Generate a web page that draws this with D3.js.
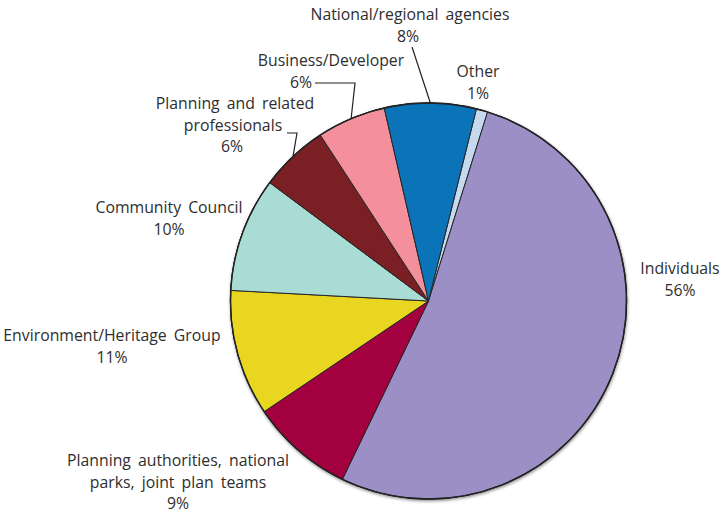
<!DOCTYPE html>
<html>
<head>
<meta charset="utf-8">
<script src="https://cdn.jsdelivr.net/npm/d3@7"></script>
<style>
  html, body { margin: 0; padding: 0; background: #ffffff; }
  svg text { font-family: "Open Sans", "Noto Sans", sans-serif; font-size: 15.8px; fill: #2e2e2e; word-spacing: 3px; }
</style>
</head>
<body>
<svg id="chart" width="723" height="515"></svg>
<script>
// Respondent groups, listed clockwise from the top of the pie
const categories = [
  "Other",
  "Individuals",
  "Planning authorities, national parks, joint plan teams",
  "Environment/Heritage Group",
  "Community Council",
  "Planning and related professionals",
  "Business/Developer",
  "National/regional agencies"
];
// Share of responses (%) as printed on each label
const shares = [1, 56, 9, 11, 10, 6, 6, 8];
const sliceColors = ["#c6daef", "#9b8fc5", "#a3003f", "#e9d620", "#a9dcd4", "#7a1f23", "#f3909c", "#0b74b9"];
// How each label breaks over lines
const labelLines = [
  ["Other"],
  ["Individuals"],
  ["Planning authorities, national", "parks, joint plan teams"],
  ["Environment/Heritage Group"],
  ["Community Council"],
  ["Planning and related", "professionals"],
  ["Business/Developer"],
  ["National/regional agencies"]
];

const svg = d3.select("#chart");
const cx = 428.5, cy = 301, radius = 198;
const rotation = 14 * Math.PI / 180;

const defs = svg.append("defs");
const shadow = defs.append("filter").attr("id", "pieShadow")
  .attr("x", "-10%").attr("y", "-10%").attr("width", "120%").attr("height", "120%");
shadow.append("feDropShadow").attr("dx", 0.5).attr("dy", 1.5)
  .attr("stdDeviation", 1.4).attr("flood-color", "#000").attr("flood-opacity", 0.45);

const data = categories.map((c, i) => ({ name: c, value: shares[i], color: sliceColors[i], lines: labelLines[i] }));

const pie = d3.pie().sort(null).value(d => d.value)
  .startAngle(rotation).endAngle(rotation + 2 * Math.PI);
const arcs = pie(data);
const arc = d3.arc().innerRadius(0).outerRadius(radius);

const g = svg.append("g").attr("transform", `translate(${cx},${cy})`);

// outer disc with a soft shadow underneath
g.append("circle").attr("r", radius).attr("fill", "#9b8fc5")
  .attr("stroke", "#222").attr("stroke-width", 1.4).attr("filter", "url(#pieShadow)");

g.selectAll("path.slice").data(arcs).join("path")
  .attr("class", "slice")
  .attr("d", arc)
  .attr("fill", d => d.data.color)
  .attr("stroke", "#262626")
  .attr("stroke-width", 1)
  .attr("stroke-linejoin", "round");

g.append("circle").attr("r", radius).attr("fill", "none")
  .attr("stroke", "#222").attr("stroke-width", 1.4);

// Point on the rim at the middle of a slice, in page coordinates
function rimPoint(a) {
  const m = (a.startAngle + a.endAngle) / 2;
  return [cx + radius * Math.sin(m), cy - radius * Math.cos(m)];
}

// Label placement: text centre, first baseline, optional percent offset and leader stub
const labelLayout = {
  "Other":                          { x: 478, y: 77 },
  "Individuals":                    { x: 680, y: 274 },
  "Planning authorities, national parks, joint plan teams": { x: 178, y: 466 },
  "Environment/Heritage Group":     { x: 112, y: 341 },
  "Community Council":              { x: 169, y: 213 },
  "Planning and related professionals": { x: 235, y: 109, pctX: 232, lineX: [233], leader: [[287, 133], [297, 133]] },
  "Business/Developer":             { x: 331, y: 66, pctX: 301, leader: [[315, 83], [355, 83]] },
  "National/regional agencies":     { x: 410, y: 20, pctX: 408, leader: [[412, 47]] }
};

const lineH = 21.5;
arcs.forEach(a => {
  const d = a.data;
  const L = labelLayout[d.name];
  const t = svg.append("text").attr("text-anchor", "middle");
  d.lines.forEach((ln, i) => {
    const lx = (L.lineX && i > 0) ? L.lineX[i - 1] : L.x;
    t.append("tspan").attr("x", lx).attr("y", L.y + i * lineH).text(ln);
  });
  t.append("tspan")
    .attr("x", L.pctX !== undefined ? L.pctX : L.x)
    .attr("y", L.y + d.lines.length * lineH)
    .text(d.value + "%");
  if (L.leader) {
    const pts = L.leader.concat([rimPoint(a)]);
    svg.append("path")
      .attr("d", d3.line()(pts))
      .attr("fill", "none")
      .attr("stroke", "#222")
      .attr("stroke-width", 1.2);
  }
});
</script>
</body>
</html>
